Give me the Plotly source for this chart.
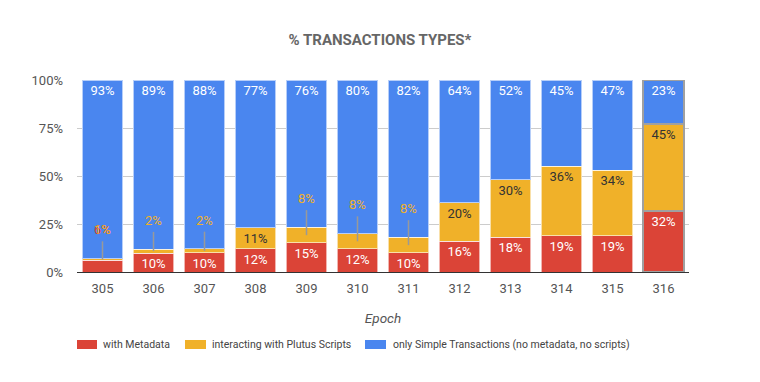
import plotly.graph_objects as go

epochs = ["305", "306", "307", "308", "309", "310", "311", "312", "313", "314", "315", "316"]
metadata = [6, 10, 10, 12, 15, 12, 10, 16, 18, 19, 19, 32]
plutus = [1, 2, 2, 11, 8, 8, 8, 20, 30, 36, 34, 45]
simple = [93, 89, 88, 77, 76, 80, 82, 64, 52, 45, 47, 23]
series_names = ["with Metadata", "interacting with Plutus Scripts",
                "only Simple Transactions (no metadata, no scripts)"]

RED = "#db4437"
YELLOW = "#f0b129"
BLUE = "#4a86ef"
FONT = "Roboto"

# which segments are too thin for an inside label (drawn outside with leader)
small_plutus = [True, True, True, False, True, True, True, False, False, False, False, False]
small_meta = [True] + [False] * 11

n = len(epochs)
totals = [metadata[i] + plutus[i] + simple[i] for i in range(n)]
m_norm = [metadata[i] / totals[i] * 100 for i in range(n)]
p_norm = [plutus[i] / totals[i] * 100 for i in range(n)]

line_colors = ["rgba(255,255,255,0.6)"] * (n - 1) + ["#a0a0a0"]
line_widths = [1] * (n - 1) + [2]

W, H = 752, 374
ML, MR, MT, MB = 69, 71, 72, 110
PW, PH = W - ML - MR, H - MT - MB
OFF = 8  # page body offset


def px_x(sx):
    return (sx - OFF - ML) / PW


def px_y(sy):
    return (H - MB - (sy - OFF)) / PH


def mk(name, vals, color, txtcolor, hide):
    return go.Bar(
        name=name, x=epochs, y=vals,
        marker=dict(color=color, line=dict(color=line_colors, width=line_widths)),
        text=["" if hide[i] else f"{v}%" for i, v in enumerate(vals)],
        textposition="inside", insidetextanchor="end",
        textfont=dict(family=FONT, size=13, color=txtcolor),
        textangle=0, cliponaxis=False, constraintext="none",
        showlegend=False,
    )


fig = go.Figure()
fig.add_trace(mk(series_names[0], metadata, RED, "white", small_meta))
fig.add_trace(mk(series_names[1], plutus, YELLOW, "#333333", small_plutus))
fig.add_trace(mk(series_names[2], simple, BLUE, "white", [False] * n))

shapes = []
annotations = []
for i in range(n):
    if small_plutus[i]:
        seg_mid = m_norm[i] + p_norm[i] / 2
        seg_top = m_norm[i] + p_norm[i]
        label_y = seg_top + 10
        shapes.append(dict(type="line", xref="x", yref="y",
                           x0=i, x1=i, y0=seg_mid, y1=label_y - 1,
                           line=dict(color="#999999", width=1.5)))
        annotations.append(dict(
            x=i, y=label_y, xref="x", yref="y", showarrow=False,
            text=f"{plutus[i]}%", font=dict(family=FONT, size=13, color=YELLOW),
            yanchor="bottom"))
    if small_meta[i]:
        label_y = m_norm[i] + p_norm[i] + 10
        annotations.insert(0, dict(
            x=i, y=label_y, xref="x", yref="y", showarrow=False,
            text=f"{metadata[i]}%", font=dict(family=FONT, size=13, color=RED),
            yanchor="bottom"))

# custom legend (rectangular swatches like the original)
legend_items = [(series_names[0], RED, 77, 97, 101),
                (series_names[1], YELLOW, 185, 206, 210),
                (series_names[2], BLUE, 365, 386, 391)]
for name, color, sx0, sx1, tx in legend_items:
    shapes.append(dict(type="rect", xref="paper", yref="paper",
                       x0=px_x(sx0), x1=px_x(sx1), y0=px_y(349), y1=px_y(340),
                       fillcolor=color, line=dict(width=0)))
    annotations.append(dict(x=px_x(tx), y=px_y(344.5), xref="paper", yref="paper",
                            xanchor="left", yanchor="middle", showarrow=False,
                            text=name, font=dict(family=FONT, size=10.5, color="#444444")))

fig.update_layout(
    barmode="stack", barnorm="percent", bargap=0.21,
    width=W, height=H,
    margin=dict(l=ML, r=MR, t=MT, b=MB),
    paper_bgcolor="white", plot_bgcolor="white",
    font=dict(family=FONT, color="#444444"),
    title=dict(text="<b>% TRANSACTIONS TYPES*</b>", x=0.4947, xanchor="center",
               y=1 - 32 / H, yanchor="middle",
               font=dict(family=FONT, size=15, color="#666666")),
    xaxis=dict(type="category", tickfont=dict(family=FONT, size=13, color="#555555"),
               title=dict(text="<i>Epoch</i>", font=dict(family=FONT, size=13.5, color="#555555"), standoff=18),
               showgrid=False, showline=True, linecolor="#333333", linewidth=1, ticks="",
               ticklabelstandoff=4),
    yaxis=dict(range=[0, 100.05], tickvals=[0, 25, 50, 75, 100],
               ticktext=["0%", "25%", "50%", "75%", "100%"],
               tickfont=dict(family=FONT, size=13, color="#555555"),
               showgrid=True, gridcolor="#cccccc", zeroline=False, ticks="",
               ticklabelstandoff=13),
    annotations=annotations,
    shapes=shapes,
    showlegend=False,
)

fig.write_html("out.html")
